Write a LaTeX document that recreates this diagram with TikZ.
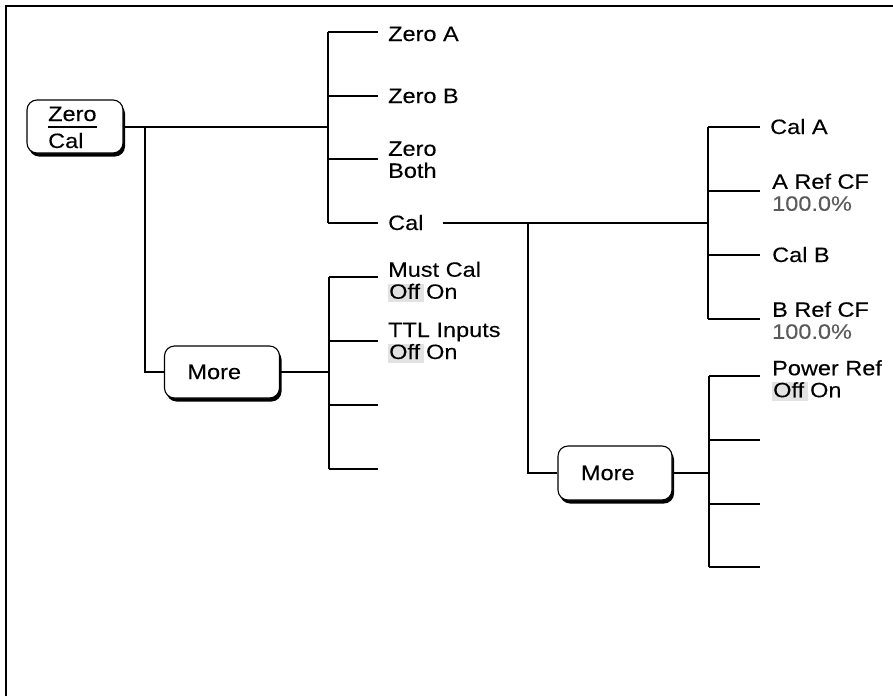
\documentclass[tikz,border=0pt]{standalone}
\usepackage{fontspec}
\setmainfont{Liberation Sans}[FakeStretch=1.13, FakeBold=0.15]
\usetikzlibrary{shadows}
\definecolor{hl}{HTML}{E2E2E2}
\definecolor{valgray}{HTML}{5A5A5A}
\newcommand{\offon}{{\setlength{\fboxsep}{0pt}\colorbox{hl}{\hspace{1pt}\rule[-3.5pt]{0pt}{18pt}Off\hspace{4pt}}}\hspace{2pt}On}
\begin{document}
\begin{tikzpicture}[x=1pt,y=-1pt,
  conn/.style={line width=2pt},
  keybox/.style={draw, line width=1.1pt, fill=white, rounded corners=10pt,
    drop shadow={shadow xshift=2pt, shadow yshift=-3.5pt, fill=black, opacity=1},
    inner sep=0pt},
  lbl/.style={inner sep=0pt, anchor=base west, font=\fontsize{20.8}{22}\selectfont},
  mlbl/.style={inner sep=0pt, anchor=north west, align=left, font=\fontsize{20.8}{22}\selectfont},
  keytext/.style={font=\fontsize{20.8}{22}\selectfont, inner ysep=0pt, inner xsep=23pt, align=left}
]
\useasboundingbox (0,0) rectangle (893,696);
% frame
\draw[line width=2.2pt] (6,696) -- (6,6) -- (893,6);

% keys
\node[keybox, minimum width=96pt, minimum height=53pt] (zc) at (75,126.5) {};
\node[lbl] (zct) at (48,121) {Zero};
\node[lbl] (zcb) at (48,148) {Cal};
\draw[line width=1.3pt] ([yshift=-6pt]zct.base west) -- ([yshift=-6pt]zct.base east);

\node[keybox, keytext, text width=69pt, minimum height=52pt] (m1) at (222,372) {More};
\node[keybox, keytext, text width=68pt, minimum height=54pt] (m2) at (615,473) {More};

% coordinates of buses
\coordinate (jx) at (145,0);
\coordinate (kx) at (528,0);
\coordinate (bA) at (328,32);  \coordinate (eA) at (378,32);
\coordinate (bB) at (328,96);  \coordinate (eB) at (378,96);
\coordinate (bC) at (328,159); \coordinate (eC) at (378,159);
\coordinate (bD) at (328,223); \coordinate (eD) at (378,223);

\coordinate (cA) at (329,277); \coordinate (fA) at (378,277);
\coordinate (cB) at (329,341); \coordinate (fB) at (378,341);
\coordinate (cC) at (329,405); \coordinate (fC) at (378,405);
\coordinate (cD) at (329,469); \coordinate (fD) at (378,469);

\coordinate (dA) at (708,127); \coordinate (gA) at (760,127);
\coordinate (dB) at (708,191); \coordinate (gB) at (760,191);
\coordinate (dC) at (708,255); \coordinate (gC) at (760,255);
\coordinate (dD) at (708,319); \coordinate (gD) at (760,319);

\coordinate (pA) at (709,376); \coordinate (hA) at (760,376);
\coordinate (pB) at (709,440); \coordinate (hB) at (760,440);
\coordinate (pC) at (709,504); \coordinate (hC) at (760,504);
\coordinate (pD) at (709,567); \coordinate (hD) at (760,567);

% labels
\node[lbl] (za) at (388,41) {Zero A};
\node[lbl] (zb) at (388,103) {Zero B};
\node[mlbl] (zboth) at (388,141.3) {Zero\\Both};
\node[lbl] (calt) at (388,230) {Cal};
\node[mlbl] (mcal) at (388,261.5) {Must Cal\\\offon};
\node[mlbl] (ttl) at (388,322.5) {TTL Inputs\\\offon};

\node[lbl] (cala) at (770,134) {Cal A};
\node[mlbl] (arcf) at (772,173.5) {A Ref CF\\\textcolor{valgray}{100.0\%}};
\node[lbl] (calb) at (772,262) {Cal B};
\node[mlbl] (brcf) at (772,301.5) {B Ref CF\\\textcolor{valgray}{100.0\%}};
\node[mlbl] (pref) at (772,360) {Power Ref\\\offon};

% connectors
\draw[conn] (zc.east) -- (zc.east -| bA);
\draw[conn] (bA) -- (bD);
\foreach \b/\e in {bA/eA,bB/eB,bC/eC,bD/eD} \draw[conn] (\b) -- (\e);
\draw[conn] (zc.east -| jx) |- (m1.west);

\draw[conn] (m1.east) -- (m1.east -| cA);
\draw[conn] (cA) -- (cD);
\foreach \b/\e in {cA/fA,cB/fB,cC/fC,cD/fD} \draw[conn] (\b) -- (\e);

\coordinate (cs) at ([xshift=19pt]calt.east);
\draw[conn] (cs) -- (cs -| dA);
\draw[conn] (dA) -- (dD);
\foreach \b/\e in {dA/gA,dB/gB,dC/gC,dD/gD} \draw[conn] (\b) -- (\e);
\draw[conn] (cs -| kx) |- (m2.west);

\draw[conn] (m2.east) -- (m2.east -| pA);
\draw[conn] (pA) -- (pD);
\foreach \b/\e in {pA/hA,pB/hB,pC/hC,pD/hD} \draw[conn] (\b) -- (\e);
\end{tikzpicture}
\end{document}
